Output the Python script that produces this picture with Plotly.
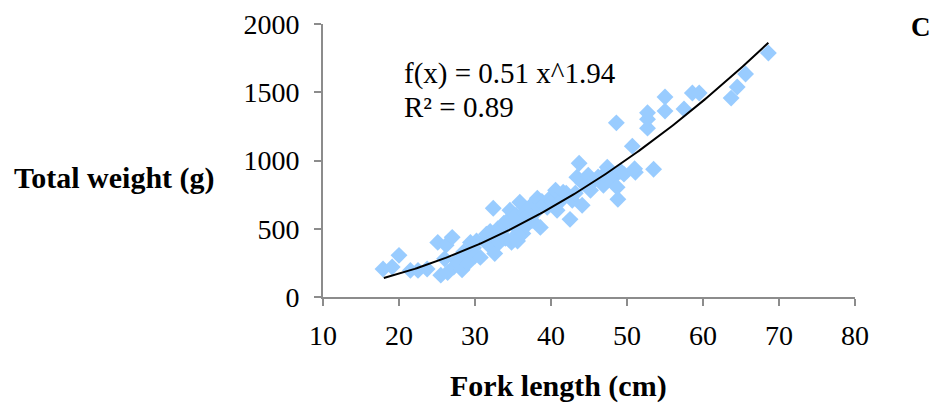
import plotly.graph_objects as go
import numpy as np

fork_length = [17.9, 19.1, 20.0, 21.5, 22.5, 23.7, 25.1, 25.5, 26.2, 26.4, 26.0, 27.0, 27.2, 27.6, 27.8,
               28.3, 28.5, 29.0, 29.4, 29.8, 30.0, 30.7, 30.2,
               31.2, 31.5, 31.8, 32.0, 32.4, 32.6, 32.8, 33.0, 33.2, 33.6, 33.8, 34.0, 34.3, 34.6, 34.8,
               35.0, 35.2, 35.4, 35.6, 35.9, 36.0, 36.3, 36.5, 36.7, 37.0, 37.2, 37.5, 37.8, 38.0, 38.2,
               38.4, 38.6, 38.8, 39.0, 39.5, 39.8,
               40.2, 40.6, 40.8, 41.2, 41.6, 42.0, 42.5, 42.8, 43.2, 43.4, 43.7, 44.1, 44.2, 44.9, 45.2,
               45.6, 46.2, 46.9, 47.4, 47.0, 48.0, 48.5, 48.7, 48.8, 48.6, 49.2, 49.6, 50.7, 51.1, 51.0,
               52.7, 52.7, 52.7, 53.5, 55.0, 55.0, 57.5, 58.6, 59.5, 63.7, 64.5, 65.6, 68.6]
total_weight = [205, 220, 305, 195, 195, 205, 400, 160, 380, 180, 280, 437, 220, 268, 250,
                200, 330, 246, 400, 360, 300, 290, 410,
                420, 460, 380, 480, 650, 319, 420, 500, 400, 488, 540, 430, 560, 635, 400,
                430, 520, 600, 410, 694, 560, 466, 620, 520, 600, 660, 560, 690, 620, 723,
                660, 510, 700, 680, 657, 720,
                700, 782, 635, 700, 767, 760, 569, 708, 760, 878, 980, 672, 833, 892, 782,
                850, 880, 819, 951, 900, 870, 892, 804, 716, 1276, 920, 900, 1105, 914, 940,
                1237, 1303, 1350, 936, 1362, 1465, 1377, 1494, 1494, 1457, 1538, 1634, 1788]

fit_a = 0.51
fit_b = 1.94
fit_x_range = [18.0, 68.6]

x_ticks = [10, 20, 30, 40, 50, 60, 70, 80]
y_ticks = [0, 500, 1000, 1500, 2000]

fx = np.linspace(fit_x_range[0], fit_x_range[1], 200)
fy = fit_a * fx ** fit_b

serif = "Liberation Serif"
fig = go.Figure()
fig.add_trace(go.Scatter(x=fork_length, y=total_weight, mode="markers",
                         marker=dict(symbol="diamond", size=13, color="#99CCFF", line=dict(width=0)),
                         showlegend=False, cliponaxis=False))
fig.add_trace(go.Scatter(x=fx, y=fy, mode="lines", line=dict(color="black", width=2),
                         showlegend=False))

axis_common = dict(showgrid=False, zeroline=False, showline=True, linecolor="#8c8c8c", linewidth=2,
                   ticks="outside", ticklen=7, tickwidth=2, tickcolor="#8c8c8c", automargin=False,
                   tickfont=dict(family=serif, size=28, color="black"))
fig.update_xaxes(range=[10, 80], tickvals=x_ticks, ticklabelstandoff=5, **axis_common)
fig.update_yaxes(range=[0, 2000], tickvals=y_ticks, ticklabelstandoff=9, **axis_common)

fig.update_layout(
    width=935, height=411,
    margin=dict(l=323, r=80, t=24, b=114, pad=0, autoexpand=False),
    plot_bgcolor="white", paper_bgcolor="white",
    annotations=[
        dict(text="f(x) = 0.51 x^1.94", x=20.4, y=1641, xref="x", yref="y", xanchor="left",
             yanchor="middle", showarrow=False, font=dict(family=serif, size=29, color="black")),
        dict(text="R² = 0.89", x=20.4, y=1391, xref="x", yref="y", xanchor="left",
             yanchor="middle", showarrow=False, font=dict(family=serif, size=29, color="black")),
        dict(text="<b>C</b>", x=1.124, y=0.989, xref="paper", yref="paper", xanchor="center",
             yanchor="middle", showarrow=False, font=dict(family=serif, size=27, color="black")),
        dict(text="<b>Total weight (g)</b>", x=-0.391, y=0.435, xref="paper", yref="paper",
             xanchor="center", yanchor="middle", showarrow=False,
             font=dict(family=serif, size=30, color="black")),
        dict(text="<b>Fork length (cm)</b>", x=0.442, y=-0.325, xref="paper", yref="paper",
             xanchor="center", yanchor="middle", showarrow=False,
             font=dict(family=serif, size=30, color="black")),
    ],
)

fig.write_html("out.html")
